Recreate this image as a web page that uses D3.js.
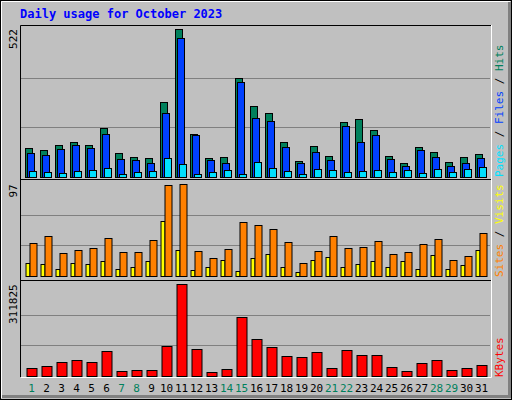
<!DOCTYPE html>
<html><head><meta charset="utf-8">
<script src="https://cdn.jsdelivr.net/npm/d3@7"></script>
<style>body{margin:0;background:#fff}</style>
</head><body><div id="chart"></div>
<script>
var w = 512, h = 400;

var days = d3.range(1, 32);
var weekend = [1, 7, 8, 14, 15, 21, 22, 28, 29];
var hits  = [100,93,111,122,111,171,83,68,65,263,522,150,65,68,348,249,224,122,54,107,72,193,203,164,72,47,104,86,51,68,79];
var files = [83,77,97,111,100,150,61,58,47,224,490,146,58,47,334,207,196,104,47,86,58,178,122,146,61,37,93,68,37,47,65];
var pages = [20,17,13,20,24,31,9,17,20,66,45,9,17,24,9,52,31,20,9,27,24,17,20,24,17,24,13,27,17,27,34];
var visits = [35,42,24,27,30,40,25,25,38,96,97,26,19,29,57,54,50,36,14,26,42,30,31,37,23,25,34,39,17,21,45];
var sites  = [14,13,7,14,13,16,7,10,16,58,28,6,9,17,5,19,23,10,4,17,20,9,13,16,10,16,7,22,7,12,28];
var kbytes = [25036,31864,45520,52348,45520,83074,14794,18208,18208,100144,311825,89902,11380,21622,199150,124042,96730,66004,62590,79660,25036,86488,69418,69418,28450,14794,42106,52348,18208,25036,35278];

var svg = d3.select("#chart").append("svg")
    .attr("width", w).attr("height", h)
    .style("font-family", "'DejaVu Sans Mono', monospace");

// background and bevel
svg.append("rect").attr("width", w).attr("height", h).attr("fill", "#c0c0c0");
svg.append("rect").attr("x", 0.5).attr("y", 0.5).attr("width", w - 1).attr("height", h - 1)
    .attr("fill", "none").attr("stroke", "#000");
svg.append("path").attr("d", "M1.5,398V1.5H510").attr("fill", "none").attr("stroke", "#fff");
svg.append("path").attr("d", "M2,396.5H509.5V2").attr("fill", "none").attr("stroke", "#808080").attr("stroke-width", 3);

svg.append("text").attr("x", 20).attr("y", 18).text("Daily usage for October 2023")
    .attr("font-size", "12px").attr("font-weight", "bold").attr("fill", "#0000ff");

// plot frame
svg.append("rect").attr("x", 20).attr("y", 25).attr("width", 471).attr("height", 352).attr("fill", "#c0c0c0");
svg.append("path").attr("d", "M20.5,377V25.5H491").attr("fill", "none").attr("stroke", "#000");
svg.append("path").attr("d", "M21,377.5H491.5V25").attr("fill", "none").attr("stroke", "#fff");
[179.5, 280.5].forEach(function (y) {
    svg.append("line").attr("x1", 20).attr("x2", 491).attr("y1", y).attr("y2", y).attr("stroke", "#000");
});

var x = d3.scaleBand().domain(days).range([24, 489]).padding(0);

function panel(yScale, grids, series, label) {
    grids.forEach(function (g) {
        svg.append("line").attr("x1", 21).attr("x2", 490)
            .attr("y1", Math.round(yScale(g)) + 0.5).attr("y2", Math.round(yScale(g)) + 0.5)
            .attr("stroke", "#808080");
    });
    series.forEach(function (s) {
        svg.append("g").selectAll("rect").data(s.data).enter().append("rect")
            .attr("x", function (d, i) { return x(days[i]) + s.off + 0.5; })
            .attr("y", function (d) { return Math.round(yScale(d)) + 0.5; })
            .attr("width", s.w)
            .attr("height", function (d) { return Math.max(0, Math.round(yScale(0)) - Math.round(yScale(d))); })
            .attr("fill", s.color).attr("stroke", "#000");
    });
    var top = yScale.domain()[1];
    svg.append("text").attr("transform", "translate(17," + yScale(top) + ") rotate(-90)")
        .attr("text-anchor", "end").attr("font-size", "11px").attr("fill", "#000").text(label);
}

var y1 = d3.scaleLinear().domain([0, 522]).range([176.5, 29]);
panel(y1, [174, 348], [
    { data: hits, color: "#00805c", off: 1, w: 7 },
    { data: files, color: "#0040ff", off: 3, w: 7 },
    { data: pages, color: "#00e0ff", off: 5, w: 7 }
], "522");

var y2 = d3.scaleLinear().domain([0, 97]).range([276, 184.3]);
panel(y2, [97 / 3, 97 * 2 / 3], [
    { data: sites, color: "#ffff00", off: 1.5, w: 4 },
    { data: visits, color: "#ff8000", off: 5.5, w: 7 }
], "97");

var y3 = d3.scaleLinear().domain([0, 311825]).range([375.7, 284.3]);
panel(y3, [311825 / 3, 311825 * 2 / 3], [
    { data: kbytes, color: "#ff0000", off: 2.5, w: 10 }
], "311825");

// day labels
svg.append("g").selectAll("text").data(days).enter().append("text")
    .attr("x", function (d) { return x(d) + 7.5; })
    .attr("y", 392)
    .attr("text-anchor", "middle").attr("font-size", "11px")
    .attr("fill", function (d) { return weekend.indexOf(d) >= 0 ? "#00805c" : "#000"; })
    .text(function (d) { return d; });

// right-side legends (read bottom to top)
function legend(yBottom, parts) {
    var t = svg.append("text").attr("transform", "translate(503," + yBottom + ") rotate(-90)")
        .attr("font-size", "11px");
    parts.forEach(function (p) { t.append("tspan").attr("fill", p[1]).text(p[0]); });
}
legend(177, [["Pages", "#00e0ff"], [" / ", "#000"], ["Files", "#0040ff"], [" / ", "#000"], ["Hits", "#00805c"]]);
legend(277, [["Sites", "#ff8000"], [" / ", "#000"], ["Visits", "#ffff00"]]);
legend(377, [["KBytes", "#ff0000"]]);
</script></body></html>
